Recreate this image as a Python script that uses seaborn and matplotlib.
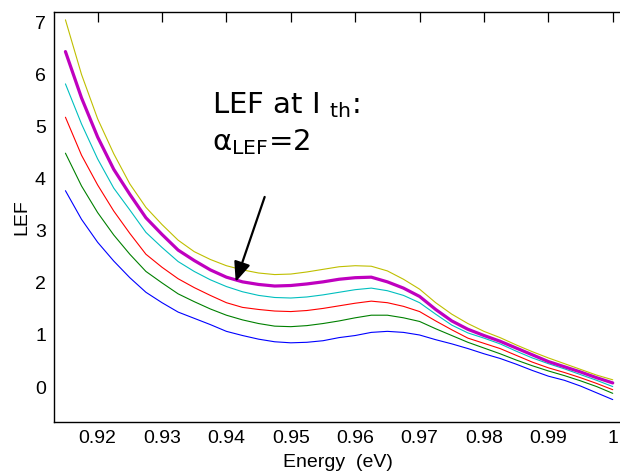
import numpy as np
import pandas as pd
import matplotlib
matplotlib.use("Agg")
import matplotlib.pyplot as plt
import seaborn as sns

# Photon energy grid (eV)
energy = [0.915, 0.9175, 0.92, 0.9225, 0.925, 0.9275, 0.93, 0.9325, 0.935, 0.9375,
          0.94, 0.9425, 0.945, 0.9475, 0.95, 0.9525, 0.955, 0.9575, 0.96, 0.9625,
          0.965, 0.9675, 0.97, 0.9725, 0.975, 0.9775, 0.98, 0.9825, 0.985, 0.9875,
          0.99, 0.9925, 0.995, 0.9975, 1.0]

# Linewidth enhancement factor for increasing injection current
lef_1 = [3.77, 3.22, 2.78, 2.42, 2.10, 1.82, 1.62, 1.44, 1.32, 1.20,
         1.07, 0.99, 0.92, 0.87, 0.85, 0.86, 0.89, 0.95, 0.99, 1.05,
         1.07, 1.05, 1.00, 0.91, 0.83, 0.74, 0.64, 0.55, 0.44, 0.32,
         0.21, 0.13, 0.02, -0.11, -0.24]
lef_2 = [4.49, 3.86, 3.35, 2.92, 2.55, 2.22, 2.00, 1.79, 1.64, 1.50,
         1.38, 1.29, 1.22, 1.17, 1.16, 1.18, 1.22, 1.27, 1.33, 1.38,
         1.38, 1.33, 1.26, 1.12, 0.99, 0.86, 0.75, 0.64, 0.52, 0.41,
         0.31, 0.22, 0.12, 0.01, -0.12]
lef_3 = [5.18, 4.45, 3.88, 3.38, 2.95, 2.55, 2.30, 2.08, 1.91, 1.76,
         1.62, 1.53, 1.49, 1.46, 1.45, 1.47, 1.51, 1.56, 1.61, 1.65,
         1.62, 1.55, 1.45, 1.27, 1.10, 0.94, 0.84, 0.74, 0.61, 0.48,
         0.37, 0.28, 0.18, 0.07, -0.05]
lef_4 = [5.82, 5.05, 4.38, 3.82, 3.40, 2.97, 2.68, 2.41, 2.22, 2.06,
         1.93, 1.83, 1.76, 1.72, 1.71, 1.73, 1.77, 1.82, 1.87, 1.90,
         1.85, 1.76, 1.62, 1.40, 1.19, 1.04, 0.94, 0.83, 0.69, 0.56,
         0.45, 0.35, 0.24, 0.13, 0.01]
lef_th = [6.44, 5.55, 4.80, 4.18, 3.70, 3.25, 2.93, 2.63, 2.43, 2.25,
          2.11, 2.02, 1.97, 1.94, 1.95, 1.98, 2.02, 2.07, 2.10, 2.11,
          2.02, 1.90, 1.74, 1.49, 1.27, 1.11, 0.99, 0.88, 0.75, 0.62,
          0.49, 0.39, 0.29, 0.18, 0.08]
lef_6 = [7.05, 6.00, 5.15, 4.48, 3.90, 3.45, 3.12, 2.82, 2.60, 2.45,
         2.33, 2.25, 2.19, 2.16, 2.17, 2.21, 2.26, 2.31, 2.33, 2.32,
         2.23, 2.07, 1.88, 1.62, 1.40, 1.22, 1.07, 0.95, 0.81, 0.68,
         0.56, 0.45, 0.34, 0.23, 0.14]

series_names = ["I1", "I2", "I3", "I4", "Ith", "I6"]
series_values = [lef_1, lef_2, lef_3, lef_4, lef_th, lef_6]
series_colors = ["#0000ff", "#008000", "#ff0000", "#00bfbf", "#bf00bf", "#bfbf00"]

x_ticks = [0.92, 0.93, 0.94, 0.95, 0.96, 0.97, 0.98, 0.99, 1.0]
x_tick_labels = ["0.92", "0.93", "0.94", "0.95", "0.96", "0.97", "0.98", "0.99", "1"]
y_ticks = [0, 1, 2, 3, 4, 5, 6, 7]

df = pd.DataFrame({
    "energy": np.tile(energy, len(series_names)),
    "lef": np.concatenate(series_values),
    "curve": np.repeat(series_names, len(energy)),
})

sns.set_style("white")
plt.rcParams["font.family"] = ["Liberation Sans", "DejaVu Sans"]
plt.rcParams["mathtext.fontset"] = "dejavusans"
plt.rcParams["mathtext.default"] = "regular"
plt.rcParams["text.color"] = "black"
plt.rcParams["axes.labelcolor"] = "black"

fig = plt.figure(figsize=(6.2, 4.76), dpi=100)
ax = fig.add_axes([54.3 / 620, 54 / 476, (622.4 - 54.3) / 620, 410 / 476])

sns.lineplot(data=df, x="energy", y="lef", hue="curve", hue_order=series_names,
             palette=dict(zip(series_names, series_colors)), size="curve",
             sizes={n: (2.3 if n == "Ith" else 0.8) for n in series_names},
             legend=False, ax=ax, estimator=None, sort=False)

ax.set_xlim(0.91327, 1.0015)
ax.set_ylim(-0.67, 7.2)
ax.set_xticks(x_ticks)
ax.set_xticklabels(x_tick_labels)
ax.set_yticks(y_ticks)
ax.tick_params(direction="in", length=7, width=0.9, top=True, right=False,
               labelsize=14, colors="black", pad=6)
for sp in ax.spines.values():
    sp.set_color("black")
    sp.set_linewidth(1.0)

ax.set_xlabel("Energy  (eV)", fontsize=14, labelpad=5, color="black")
ax.set_ylabel("LEF", fontsize=14, labelpad=3, color="black")

ax.text(0.9378, 5.26, "LEF at I $_{th}$:", fontsize=21, family="DejaVu Sans",
        ha="left", va="baseline", color="black")
ax.text(0.9378, 4.55, "α$_{LEF}$=2", fontsize=21, family="DejaVu Sans",
        ha="left", va="baseline", color="black")
ax.annotate("", xy=(0.94144, 2.02), xytext=(0.94594, 3.65),
            arrowprops=dict(arrowstyle="-|>,head_length=1.2,head_width=0.5",
                            color="black", lw=1.6, shrinkA=0, shrinkB=0))

fig.savefig("out.png", dpi=100)
